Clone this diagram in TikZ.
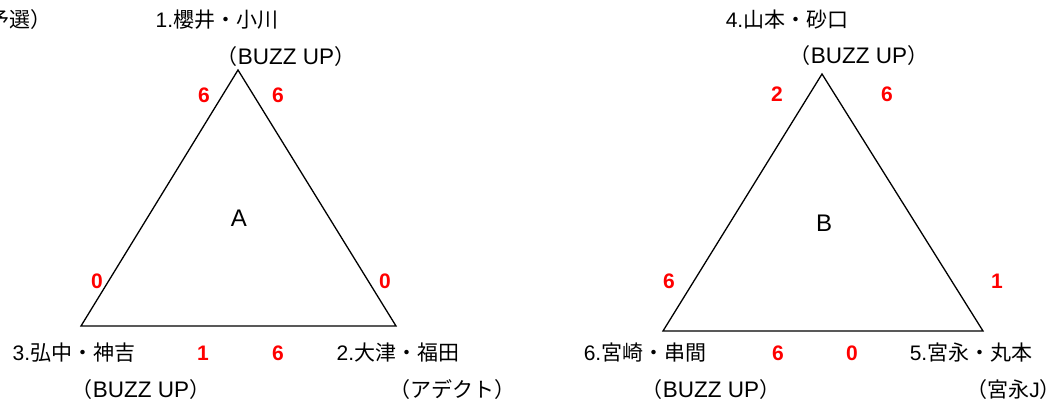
\documentclass[tikz,border=0pt]{standalone}
\usepackage{fontspec}
\setmainfont{Liberation Sans}
\newfontfamily\jp{Noto Sans CJK JP}
\newcommand\buzzup{{\fontsize{22.5}{25}\selectfont BUZZ UP}}
\tikzset{
  lbl/.style={inner sep=0pt, font=\fontsize{21}{25}\selectfont},
  grp/.style={inner sep=0pt, font=\fontsize{24}{28}\selectfont},
  score/.style={inner sep=0pt, text=red, font=\fontsize{21}{25}\selectfont\bfseries},
  tri/.style={draw=black, line width=1.3pt, line join=miter}
}
\begin{document}
\begin{tikzpicture}[x=1pt,y=-1pt]
\useasboundingbox (0,0) rectangle (1062,403);
\clip (0,0) rectangle (1062,403);
% triangle A
\coordinate (a1) at (238,70);
\coordinate (a2) at (396,326);
\coordinate (a3) at (81,326);
\draw[tri] (a1) -- (a2) -- (a3) -- cycle;
% triangle B
\coordinate (b1) at (822,74);
\coordinate (b2) at (983,331);
\coordinate (b3) at (663,331);
\draw[tri] (b1) -- (b2) -- (b3) -- cycle;
% header
\node[lbl, anchor=east] (hdr) at (52,20) {{\jp 予選）}};
% group A texts
\node[lbl] (n1) at (217,20) {1.{\jp 櫻井・小川}};
\node[lbl] (c1) at (286,57) {{\jp （}\buzzup{\jp ）}};
\node[lbl] (n3) at (74,353) {3.{\jp 弘中・神吉}};
\node[lbl] (c3) at (141,390) {{\jp （}\buzzup{\jp ）}};
\node[lbl] (n2) at (398,353) {2.{\jp 大津・福田}};
\node[lbl] (c2) at (452,390) {{\jp （アデクト）}};
\node[grp] (gA) at (239,218) {A};
\node[score] (sA1) at (204,95) {6};
\node[score] (sA2) at (278,95) {6};
\node[score] (sA3) at (97,281) {0};
\node[score] (sA4) at (385,281) {0};
\node[score] (sA5) at (203,353) {1};
\node[score] (sA6) at (278,353) {6};
% group B texts
\node[lbl] (n4) at (787,20) {4.{\jp 山本・砂口}};
\node[lbl] (c4) at (859,56) {{\jp （}\buzzup{\jp ）}};
\node[lbl] (n6) at (645,353) {6.{\jp 宮崎・串間}};
\node[lbl] (c6) at (711,390) {{\jp （}\buzzup{\jp ）}};
\node[lbl] (n5) at (971,353) {5.{\jp 宮永・丸本}};
\node[lbl, anchor=east] (c5) at (1061,390) {{\jp （宮永}J{\jp ）}};
\node[grp] (gB) at (824,223) {B};
\node[score] (sB1) at (777,94) {2};
\node[score] (sB2) at (887,94) {6};
\node[score] (sB3) at (669,281) {6};
\node[score] (sB4) at (997,281) {1};
\node[score] (sB5) at (778,353) {6};
\node[score] (sB6) at (852,353) {0};
\end{tikzpicture}
\end{document}
